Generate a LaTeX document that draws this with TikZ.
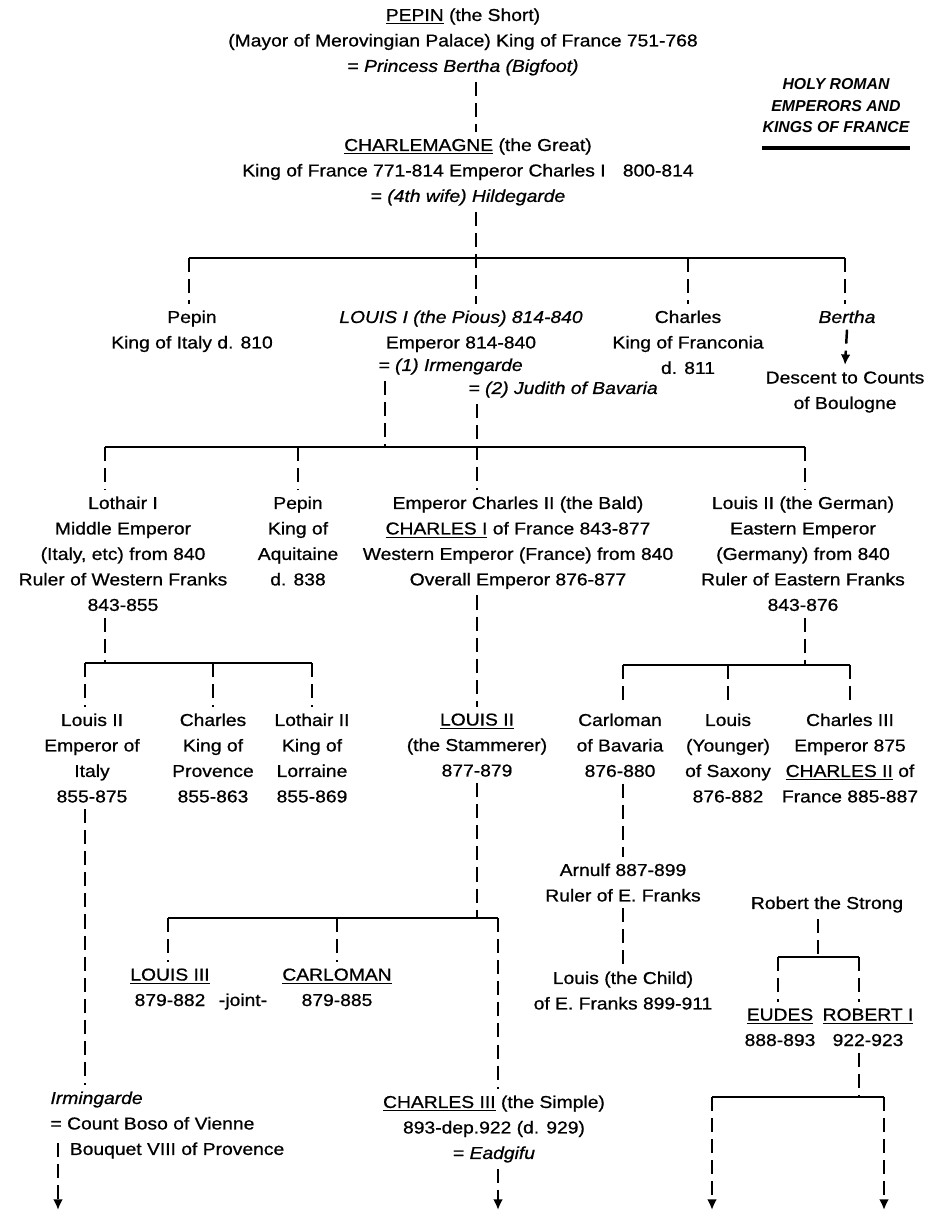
\documentclass[tikz,border=0pt]{standalone}
\usepackage{fontspec}
\setmainfont{Liberation Sans}[FakeStretch=1.12, FakeBold=0.8]
\newfontfamily\titlefont{Liberation Sans}
\usetikzlibrary{arrows.meta}

\tikzset{
    kin/.style={line width=1.4pt, dash pattern=on 8pt off 4pt},
    bar/.style={line width=1.4pt},
    desc/.style={kin, -{Latex[length=6pt,width=5.5pt]}},
    person/.style={anchor=north, align=center, inner sep=3.5pt, font=\fontsize{9.8}{14.5}\selectfont},
    heading/.style={person, font=\titlefont\bfseries\itshape\fontsize{9}{12.3}\selectfont},
}

\begin{document}
\begin{tikzpicture}[x=0.02cm, y=-0.02cm]
    \useasboundingbox (0,0) rectangle (937,1212);

    \node[person] (pepin) at (463,2) {\underline{PEPIN} (the Short)\\(Mayor of Merovingian Palace) King of France 751-768\\= \textit{Princess Bertha (Bigfoot)}};
    \node[heading] (title) at (836,72) {HOLY ROMAN\\EMPERORS AND\\KINGS OF FRANCE};
    \draw[line width=2pt] ([xshift=3.5pt,yshift=-5pt]title.south west) -- ([xshift=-3.5pt,yshift=-5pt]title.south east);
    \node[person] (charlemagne) at (468,132) {\underline{CHARLEMAGNE} (the Great)\\King of France 771-814 Emperor Charles I\quad 800-814\\= \textit{(4th wife) Hildegarde}};

    \node[person] (pepinit) at (192,304) {Pepin\\King of Italy d. 810};
    \node[person] (louisi) at (461,304) {\textit{LOUIS I (the Pious) 814-840}\\Emperor 814-840};
    \node[person, anchor=north west] (irmen) at (372,352) {\textit{= (1) Irmengarde}};
    \node[person, anchor=north west] (judith) at (462,375) {\textit{= (2) Judith of Bavaria}};
    \node[person] (charlesfr) at (688,304) {Charles\\King of Franconia\\d. 811};
    \node[person] (bertha) at (847,304) {\textit{Bertha}};
    \node[person] (boulogne) at (845,365) {Descent to Counts\\of Boulogne};

    \node[person] (lothair) at (123,490) {Lothair I\\Middle Emperor\\(Italy, etc) from 840\\Ruler of Western Franks\\843-855};
    \node[person] (pepinaq) at (298,490) {Pepin\\King of\\Aquitaine\\d. 838};
    \node[person] (charlesii) at (518,490) {Emperor Charles II (the Bald)\\\underline{CHARLES I} of France 843-877\\Western Emperor (France) from 840\\Overall Emperor 876-877};
    \node[person] (louisger) at (803,490) {Louis II (the German)\\Eastern Emperor\\(Germany) from 840\\Ruler of Eastern Franks\\843-876};

    \node[person] (louisit) at (92,707) {Louis II\\Emperor of\\Italy\\855-875};
    \node[person] (charlespr) at (213,707) {Charles\\King of\\Provence\\855-863};
    \node[person] (lothairii) at (312,707) {Lothair II\\King of\\Lorraine\\855-869};
    \node[person] (stam) at (477,707) {\underline{LOUIS II}\\(the Stammerer)\\877-879};
    \node[person] (carlomanb) at (620,707) {Carloman\\of Bavaria\\876-880};
    \node[person] (louissax) at (728,707) {Louis\\(Younger)\\of Saxony\\876-882};
    \node[person] (charlesiii) at (850,707) {Charles III\\Emperor 875\\\underline{CHARLES II} of\\France 885-887};

    \node[person] (arnulf) at (623,857) {Arnulf 887-899\\Ruler of E. Franks};
    \node[person] (robert) at (827,890) {Robert the Strong};
    \node[person] (louisiii) at (170,962) {\underline{LOUIS III}\\879-882};
    \node[person] (joint) at (243,987) {-joint-};
    \node[person] (carloman) at (337,962) {\underline{CARLOMAN}\\879-885};
    \node[person] (child) at (623,965) {Louis (the Child)\\of E. Franks 899-911};
    \node[person] (eudes) at (780,1002) {\underline{EUDES}\\888-893};
    \node[person] (roberti) at (868,1002) {\underline{ROBERT I}\\922-923};
    \node[person, anchor=north west, align=left] (irmingarde) at (44,1085) {\textit{Irmingarde}\\= Count Boso of Vienne\\\hspace*{11pt}Bouquet VIII of Provence};
    \node[person] (simple) at (494,1089) {\underline{CHARLES III} (the Simple)\\893-dep.922 (d. 929)\\= \textit{Eadgifu}};

    \coordinate (j1) at (476,258);
    \coordinate (b1l) at (189,258);
    \coordinate (b1r) at (845,258);
    \coordinate (j2) at (385,447);
    \coordinate (j3) at (477,447);
    \coordinate (b2l) at (105,447);
    \coordinate (b2r) at (805,447);
    \coordinate (b3l) at (85,663);
    \coordinate (b3r) at (312,663);
    \coordinate (b4l) at (623,665);
    \coordinate (b4r) at (850,665);
    \coordinate (b5l) at (168,918);
    \coordinate (b5r) at (498,918);
    \coordinate (j6) at (818,957);
    \coordinate (b6l) at (778,957);
    \coordinate (b6r) at (859,957);
    \coordinate (b7l) at (712,1097);
    \coordinate (b7r) at (884,1097);
    \coordinate (irmstart) at (58,1143);
    \coordinate (bottom) at (0,1210);

    \draw[kin] (pepin.south -| j1) -- (charlemagne.north -| j1);
    \draw[kin] (charlemagne.south -| j1) -- (louisi.north -| j1);
    \draw[bar] (b1l) -- (b1r);
    \draw[kin] (b1l) -- (b1l |- pepinit.north);
    \draw[kin] (charlesfr.north |- b1l) -- (charlesfr.north);
    \draw[kin] (b1r) -- (b1r |- bertha.north);
    \draw[desc] (bertha.south) -- (boulogne.north);

    \draw[kin] (irmen.south -| j2) -- (j2);
    \draw[kin] (judith.south -| j3) -- (charlesii.north -| j3);
    \draw[bar] (b2l) -- (b2r);
    \draw[kin] (b2l) -- (b2l |- lothair.north);
    \draw[kin] (pepinaq.north |- b2l) -- (pepinaq.north);
    \draw[kin] (b2r) -- (b2r |- louisger.north);

    \draw[kin] (lothair.south -| b2l) -- (b2l |- b3l);
    \draw[bar] (b3l) -- (b3r);
    \draw[kin] (b3l) -- (b3l |- louisit.north);
    \draw[kin] (charlespr.north |- b3l) -- (charlespr.north);
    \draw[kin] (b3r) -- (lothairii.north);
    \draw[kin] (louisit.south -| b3l) -- (b3l |- irmingarde.north);
    \draw[desc] (irmstart) -- (irmstart |- bottom);

    \draw[kin] (charlesii.south -| j3) -- (stam.north -| j3);
    \draw[kin] (stam.south -| j3) -- (j3 |- b5l);
    \draw[bar] (b5l) -- (b5r);
    \draw[kin] (b5l) -- (b5l |- louisiii.north);
    \draw[kin] (carloman.north |- b5l) -- (carloman.north);
    \draw[kin] (b5r) -- (b5r |- simple.north);
    \draw[desc] (simple.south -| b5r) -- (b5r |- bottom);

    \draw[kin] (louisger.south -| b2r) -- (b2r |- b4l);
    \draw[bar] (b4l) -- (b4r);
    \draw[kin] (b4l) -- (b4l |- carlomanb.north);
    \draw[kin] (louissax.north |- b4l) -- (louissax.north);
    \draw[kin] (b4r) -- (charlesiii.north);
    \draw[kin] (carlomanb.south -| b4l) -- (b4l |- arnulf.north);
    \draw[kin] (arnulf.south) -- (child.north);

    \draw[kin] (robert.south -| j6) -- (j6);
    \draw[bar] (b6l) -- (b6r);
    \draw[kin] (b6l) -- (b6l |- eudes.north);
    \draw[kin] (b6r) -- (b6r |- roberti.north);
    \draw[kin] (roberti.south -| b6r) -- (b6r |- b7l);
    \draw[bar] (b7l) -- (b7r);
    \draw[desc] (b7l) -- (b7l |- bottom);
    \draw[desc] (b7r) -- (b7r |- bottom);
\end{tikzpicture}
\end{document}
